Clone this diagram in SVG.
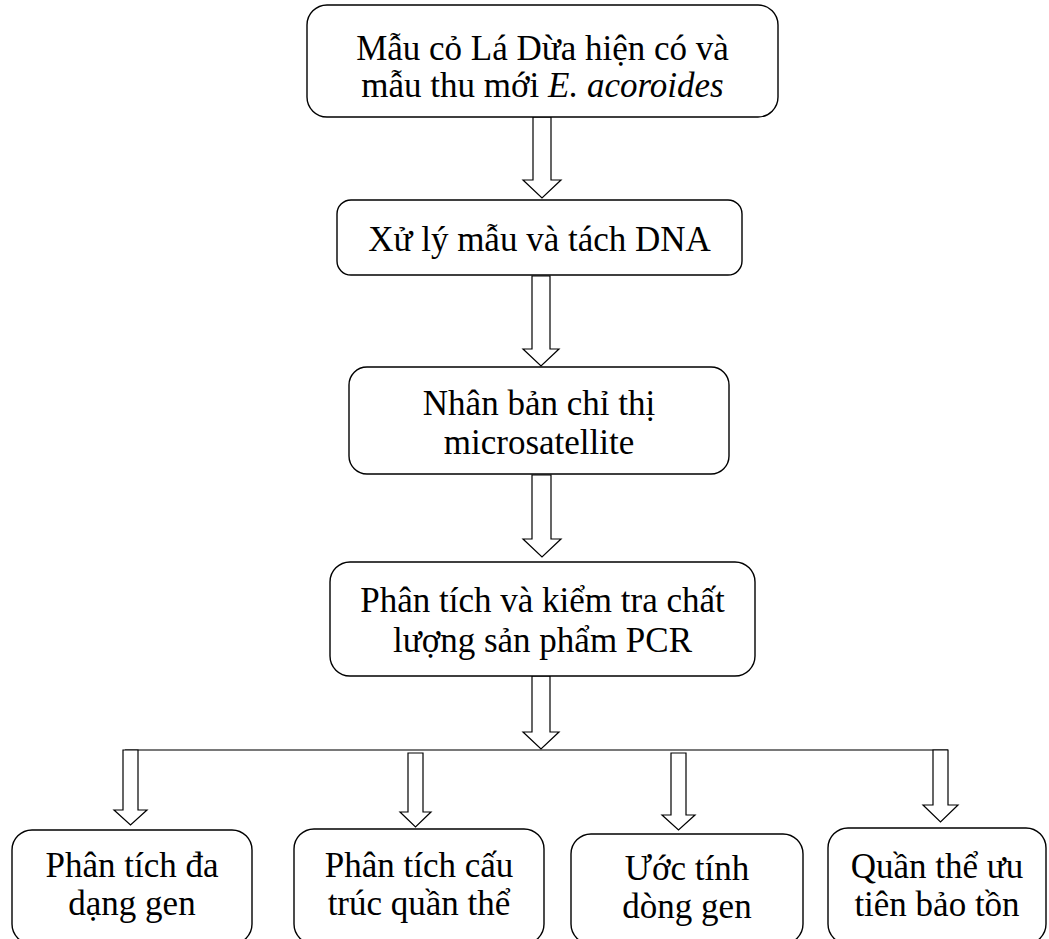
<svg xmlns="http://www.w3.org/2000/svg" width="1049" height="939" viewBox="0 0 1049 939">
<style>
.box{fill:#fff;stroke:#000;stroke-width:1.4}
.t{font-family:"Liberation Serif","Times New Roman",serif;font-size:35px;fill:#000;text-anchor:middle}
.arr{fill:#fff;stroke:#000;stroke-width:1.2;stroke-linejoin:miter}
.bus{fill:none;stroke:#4d4d4d;stroke-width:1.6}
</style>
<rect width="1049" height="939" fill="#fff"/>
<g id="connectors">
<line class="bus" x1="125" y1="750" x2="948" y2="750"/>
<path class="arr" d="M533,117 L551,117 L551,180 L561,180 L542,198 L523,180 L533,180 Z"/>
<path class="arr" d="M532,276 L550,276 L550,349 L559,349 L541,366 L523,349 L532,349 Z"/>
<path class="arr" d="M532,475 L551,475 L551,539 L561,539 L542,557 L523,539 L532,539 Z"/>
<path class="arr" d="M532,676 L550,676 L550,732 L559,732 L541,749 L523,732 L532,732 Z"/>
<path class="arr" d="M123,750 L138,750 L138,810 L147,810 L130.5,825 L114,810 L123,810 Z"/>
<path class="arr" d="M408,753 L423,753 L423,812 L431,812 L415.5,827 L400,812 L408,812 Z"/>
<path class="arr" d="M671,753 L686,753 L686,815 L695,815 L678.5,830 L662,815 L671,815 Z"/>
<path class="arr" d="M933,750 L948,750 L948,805 L958,805 L940.5,822 L923,805 L933,805 Z"/>
</g>
<g id="n1">
<rect class="box" x="307" y="5" width="471" height="112" rx="20"/>
<text class="t" x="542.5" y="60">Mẫu cỏ Lá Dừa hiện có và</text>
<text class="t" x="542.5" y="97">mẫu thu mới <tspan font-style="italic">E. acoroides</tspan></text>
</g>
<g id="n2">
<rect class="box" x="337" y="200" width="405" height="75" rx="14"/>
<text class="t" x="539.5" y="251">Xử lý mẫu và tách DNA</text>
</g>
<g id="n3">
<rect class="box" x="349" y="367" width="380" height="107" rx="18"/>
<text class="t" x="539" y="415">Nhân bản chỉ thị</text>
<text class="t" x="539" y="454">microsatellite</text>
</g>
<g id="n4">
<rect class="box" x="330" y="562" width="425" height="114" rx="20"/>
<text class="t" x="542.5" y="612">Phân tích và kiểm tra chất</text>
<text class="t" x="542.5" y="652">lượng sản phẩm PCR</text>
</g>
<g id="n5">
<rect class="box" x="12" y="830" width="240" height="114" rx="20"/>
<text class="t" x="132" y="877">Phân tích đa</text>
<text class="t" x="132" y="915">dạng gen</text>
</g>
<g id="n6">
<rect class="box" x="294" y="829" width="250" height="115" rx="20"/>
<text class="t" x="419" y="877">Phân tích cấu</text>
<text class="t" x="419" y="915">trúc quần thể</text>
</g>
<g id="n7">
<rect class="box" x="571" y="834" width="232" height="110" rx="20"/>
<text class="t" x="687" y="880">Ước tính</text>
<text class="t" x="687" y="918">dòng gen</text>
</g>
<g id="n8">
<rect class="box" x="828" y="828" width="218" height="116" rx="20"/>
<text class="t" x="937" y="878">Quần thể ưu</text>
<text class="t" x="937" y="916">tiên bảo tồn</text>
</g>
</svg>
